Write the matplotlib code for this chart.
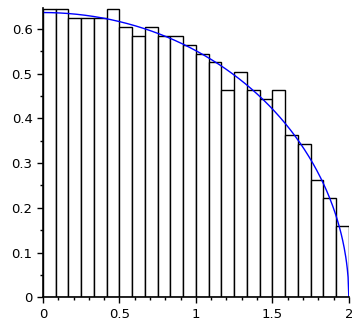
import numpy as np
import matplotlib
matplotlib.use('Agg')
import matplotlib.pyplot as plt
from matplotlib.ticker import MultipleLocator, FuncFormatter

# histogram heights (density), 24 bins on [0, 2]
heights = [0.645, 0.645, 0.625, 0.625, 0.625, 0.645, 0.605, 0.585,
           0.605, 0.585, 0.585, 0.565, 0.545, 0.525, 0.464, 0.504,
           0.464, 0.444, 0.464, 0.3625, 0.3425, 0.262, 0.221, 0.160]
x_min, x_max = 0.0, 2.0
radius = 2.0  # quarter-circle density sqrt(r^2 - x^2) * 4 / (pi r^2)

edges = np.linspace(x_min, x_max, len(heights) + 1)
width = edges[1] - edges[0]

fig = plt.figure(figsize=(3.52, 3.21), dpi=100)
ax = fig.add_axes([0.122, 0.074, 0.869, 0.90])

ax.bar(edges[:-1], heights, width=width, align='edge',
       facecolor='white', edgecolor='black', linewidth=1.0)

xs = np.linspace(x_min, x_max, 400)
ax.plot(xs, 4 * np.sqrt(np.clip(radius**2 - xs**2, 0, None)) / (np.pi * radius**2),
        color='blue', linewidth=1.0)

ax.set_xlim(x_min, x_max)
ax.set_ylim(0, 0.646)
ax.spines['top'].set_visible(False)
ax.spines['right'].set_visible(False)

ax.xaxis.set_major_locator(MultipleLocator(0.5))
ax.xaxis.set_minor_locator(MultipleLocator(0.1))
ax.yaxis.set_major_locator(MultipleLocator(0.1))
ax.yaxis.set_minor_locator(MultipleLocator(0.05))
fmt = FuncFormatter(lambda v, p: '%g' % round(v, 3))
ax.xaxis.set_major_formatter(fmt)
ax.yaxis.set_major_formatter(fmt)
ax.tick_params(which='major', length=4, width=1, labelsize=9.5, direction='out')
ax.tick_params(which='minor', length=2.5, width=1, direction='out')

for s in ['left', 'bottom']:
    ax.spines[s].set_linewidth(1.2)

fig.savefig('out.png', dpi=100)
